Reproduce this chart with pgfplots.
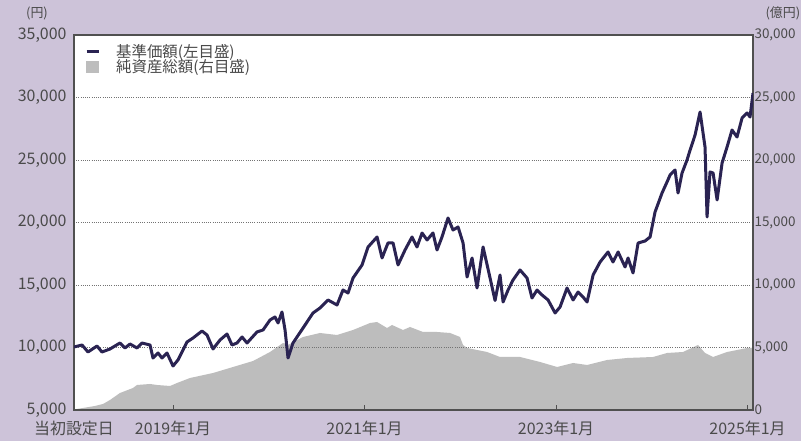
\documentclass[border=0pt]{standalone}
\usepackage{fontspec}
\setmainfont{Noto Sans CJK JP}
\usepackage{pgfplots}
\usepackage{pgfplotstable}
\pgfplotsset{compat=1.18}

\definecolor{bg}{HTML}{CDC3D9}
\definecolor{navline}{HTML}{2A2352}
\definecolor{assetgray}{HTML}{BDBDBD}
\definecolor{txt}{HTML}{4A4A4A}
\definecolor{frame}{HTML}{505050}

% 基準価額 (円)
\pgfplotstableread{
year nav
2017.966 10040
2018.050 10200
2018.112 9640
2018.206 10120
2018.258 9640
2018.342 9880
2018.446 10360
2018.499 9960
2018.551 10280
2018.624 9960
2018.676 10360
2018.760 10200
2018.791 9160
2018.843 9560
2018.885 9160
2018.937 9560
2019.000 8520
2019.052 9000
2019.146 10440
2019.209 10760
2019.303 11320
2019.355 11000
2019.418 9880
2019.491 10600
2019.564 11080
2019.616 10200
2019.668 10360
2019.721 10840
2019.773 10360
2019.877 11240
2019.940 11400
2020.013 12200
2020.065 12440
2020.097 11960
2020.138 12840
2020.170 11400
2020.201 9160
2020.253 10360
2020.358 11560
2020.462 12760
2020.535 13160
2020.619 13800
2020.713 13400
2020.775 14600
2020.828 14360
2020.880 15560
2020.974 16600
2021.037 18040
2021.131 18840
2021.183 17160
2021.245 18360
2021.298 18360
2021.350 16600
2021.423 17800
2021.496 18840
2021.548 18040
2021.601 19160
2021.653 18600
2021.715 19160
2021.757 17800
2021.809 18840
2021.872 20360
2021.924 19400
2021.977 19640
2022.029 18360
2022.071 15640
2022.123 17160
2022.175 14760
2022.238 18040
2022.311 15560
2022.363 13760
2022.415 15800
2022.447 13640
2022.499 14600
2022.551 15400
2022.624 16200
2022.697 15560
2022.749 13960
2022.802 14600
2022.854 14200
2022.917 13800
2022.990 12760
2023.042 13240
2023.115 14760
2023.178 13800
2023.230 14440
2023.282 14040
2023.324 13640
2023.387 15800
2023.460 16840
2023.543 17640
2023.595 16840
2023.648 17640
2023.721 16440
2023.752 17160
2023.804 15960
2023.857 18360
2023.930 18520
2023.982 18840
2024.034 20840
2024.107 22360
2024.159 23240
2024.191 23800
2024.243 24200
2024.274 22360
2024.316 23960
2024.368 25000
2024.400 25800
2024.452 27000
2024.504 28840
2024.556 26040
2024.577 20440
2024.608 24040
2024.640 23960
2024.682 21800
2024.734 24760
2024.786 26040
2024.838 27400
2024.890 26840
2024.943 28360
2024.995 28760
2025.026 28440
2025.057 30360
}\navtable

% 純資産総額 (億円)
\pgfplotstableread{
year assets
2017.966 40
2018.060 160
2018.185 320
2018.269 480
2018.342 800
2018.446 1360
2018.582 1760
2018.624 2000
2018.760 2080
2018.833 2000
2018.969 1920
2019.042 2160
2019.178 2560
2019.418 2960
2019.627 3440
2019.836 3920
2020.013 4640
2020.149 5360
2020.201 5200
2020.358 5840
2020.535 6160
2020.713 6000
2020.880 6400
2021.058 6960
2021.131 7040
2021.235 6560
2021.287 6800
2021.402 6400
2021.475 6640
2021.611 6240
2021.757 6240
2021.893 6160
2021.997 5840
2022.029 5200
2022.071 4960
2022.279 4640
2022.415 4240
2022.624 4240
2022.833 3840
2023.011 3440
2023.178 3760
2023.324 3600
2023.533 4000
2023.742 4160
2024.013 4240
2024.159 4560
2024.326 4640
2024.483 5200
2024.556 4560
2024.640 4240
2024.786 4640
2024.995 4960
2025.057 4960
}\assettable

\begin{document}
\begin{tikzpicture}[x=1bp,y=1bp]
\fill[bg] (0,0) rectangle (801,441);
\pgfplotsset{
  common/.style={
    at={(74bp,31bp)}, anchor=south west,
    width=679bp, height=375bp, scale only axis,
    xmin=2017.966, xmax=2025.057,
    axis line style={frame, line width=1.3bp},
    scaled y ticks=false,
    tick label style={font=\fontsize{16}{18}\selectfont, text=txt},
    yticklabel style={/pgf/number format/fixed, /pgf/number format/1000 sep={,},
      /pgf/number format/assume math mode=true},
    ytick style={draw=none},
  }
}
\begin{axis}[common,
  ymin=0, ymax=30000, ytick={0,5000,...,30000},
  yticklabel pos=right,
  yticklabel style={font=\fontsize{13.5}{15}\selectfont, xshift=-2bp},
  xtick=\empty,
  axis background/.style={fill=white},
]
\addplot[fill=assetgray, draw=none] table[x=year, y=assets] {\assettable} \closedcycle;
\end{axis}
\begin{axis}[common,
  ymin=5000, ymax=35000, ytick={5000,10000,...,35000},
  yticklabel pos=left,
  yticklabel style={xshift=-4bp},
  ymajorgrids,
  major grid style={draw=gray!90!black, line width=0.9bp, dash pattern=on 0.9bp off 1.3bp},
  xtick={2019,2021,2023,2025},
  xticklabels={2019年1月,2021年1月,2023年1月,2025年1月},
  extra x ticks={2017.966},
  extra x tick labels={当初設定日},
  extra x tick style={major tick length=0pt},
  xtick pos=bottom, tick align=inside,
  major tick length=5bp,
  xtick style={frame, line width=1bp},
  xticklabel style={yshift=-8bp},
  legend style={at={(0.012,0.985)}, anchor=north west, draw=none, fill=none,
    font=\fontsize{15.5}{17}\selectfont, text=txt, row sep=-2bp,
    nodes={inner sep=1.5bp}},
  legend cell align=left,
]
\addplot[navline, line width=3bp, line join=round,
  legend image code/.code={\draw[navline, line width=2.6bp] (0bp,0bp) -- (12bp,0bp); \path[draw=none] (0bp,0bp) -- (28bp,0bp);}]
  table[x=year, y=nav] {\navtable};
\addlegendentry{基準価額(左目盛)}
\addlegendimage{legend image code/.code={\fill[assetgray] (0bp,-5.5bp) rectangle (12bp,5.5bp); \path[draw=none] (0bp,0bp) -- (28bp,0bp);}}
\addlegendentry{純資産総額(右目盛)}
\end{axis}
\node[font=\fontsize{13}{15}\selectfont, text=txt] at (37,428) {(円)};
\node[font=\fontsize{13}{15}\selectfont, text=txt, anchor=west] at (762,428) {(億円)};
\pgfresetboundingbox
\path[use as bounding box] (0,0) rectangle (801,441);
\end{tikzpicture}
\end{document}
